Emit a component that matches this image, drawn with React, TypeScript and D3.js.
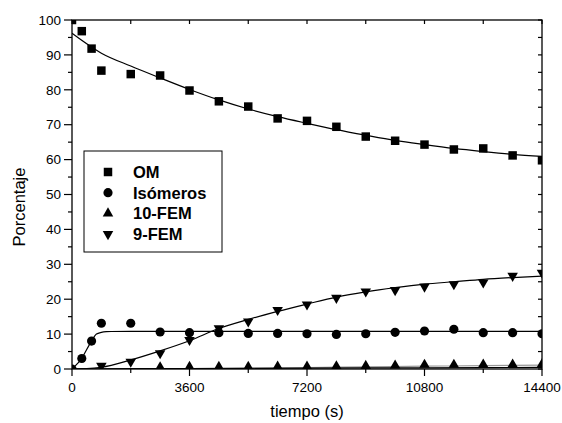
import React from 'react';
import * as d3 from 'd3';

const omTimes = [0, 300, 600, 900, 1800, 2700, 3600, 4500, 5400, 6300, 7200, 8100, 9000, 9900, 10800, 11700, 12600, 13500, 14400];
const omValues = [100, 96.8, 91.8, 85.5, 84.5, 84.1, 79.8, 76.7, 75.2, 71.8, 71.1, 69.4, 66.6, 65.4, 64.3, 62.9, 63.2, 61.2, 59.8];
const isoValues = [0, 3, 8, 13.1, 13.1, 10.6, 10.4, 10.4, 10.2, 10.2, 10.1, 9.9, 10.1, 10.5, 10.9, 11.4, 10.4, 10.4, 10.1];
const fem9Times = [900, 1800, 2700, 3600, 4500, 5400, 6300, 7200, 8100, 9000, 9900, 10800, 11700, 12600, 13500, 14400];
const fem9Values = [0.9, 2.1, 4.5, 8.3, 11.7, 13.6, 16.9, 18.5, 20.4, 22.2, 22.6, 23.6, 24.3, 24.8, 26.7, 27.6];
const fem10Times = [2700, 3600, 4500, 5400, 6300, 7200, 8100, 9000, 9900, 10800, 11700, 12600, 13500, 14400];
const fem10Values = [0.5, 0.6, 0.6, 0.6, 0.7, 0.7, 0.8, 0.9, 1.0, 1.2, 1.2, 1.3, 1.3, 1.4];

// fitted curves
const omFitTimes = [0, 900, 1800, 2700, 3600, 4500, 5400, 6300, 7200, 8100, 9000, 9900, 10800, 11700, 12600, 13500, 14400];
const omFitValues = [96.2, 90.5, 86.8, 83.4, 80.1, 77.1, 74.5, 72.3, 70.4, 68.6, 67.0, 65.5, 64.3, 63.2, 62.3, 61.5, 60.9];
const isoFitTimes = [0, 150, 300, 450, 600, 750, 900, 1050, 1200, 1800, 3600, 7200, 14400];
const isoFitValues = [0, 1.4, 3.0, 5.6, 8.0, 10.0, 10.5, 10.7, 10.75, 10.8, 10.8, 10.8, 10.8];
const fem9FitTimes = [0, 450, 900, 1800, 2700, 3600, 4500, 5400, 6300, 7200, 8100, 9000, 9900, 10800, 11700, 12600, 13500, 14400];
const fem9FitValues = [0, 0.1, 0.5, 2.6, 5.2, 8.1, 11.6, 14.2, 16.5, 18.6, 20.6, 22.1, 23.3, 24.3, 25.0, 25.7, 26.2, 26.6];
const fem10FitTimes = [0, 3600, 7200, 10800, 14400];
const fem10FitValues = [0, 0.15, 0.25, 0.35, 0.45];
const grayFitTimes = [0, 3600, 5400, 7200, 9000, 10800, 12600, 14400];
const grayFitValues = [0, 0.1, 0.25, 0.4, 0.6, 0.8, 0.95, 1.1];

const xTicks = [0, 3600, 7200, 10800, 14400];
const yTicks = [0, 10, 20, 30, 40, 50, 60, 70, 80, 90, 100];
const legendLabels = ['OM', 'Isómeros', '10-FEM', '9-FEM'];

const W = 562, H = 423;
const left = 72, right = 542, top = 20, bottom = 369;
const font = 'Liberation Sans, Arial, sans-serif';

const x = d3.scaleLinear().domain([0, 14400]).range([left, right]);
const y = d3.scaleLinear().domain([0, 100]).range([bottom, top]);

const line = d3.line<[number, number]>()
  .x(d => x(d[0]))
  .y(d => y(d[1]))
  .curve(d3.curveMonotoneX);

const zip = (t: number[], v: number[]) => t.map((tt, i) => [tt, v[i]] as [number, number]);

const sym = {
  square: d3.symbol().type(d3.symbolSquare).size(72)(),
  circle: d3.symbol().type(d3.symbolCircle).size(66)(),
  up: d3.symbol().type(d3.symbolTriangle).size(48)(),
};

const Marker = ({ kind, cx, cy }: { kind: string; cx: number; cy: number }) => {
  if (kind === 'down') {
    return <path d={sym.up as string} transform={`translate(${cx},${cy}) rotate(180)`} fill="#000" />;
  }
  return <path d={(sym as any)[kind]} transform={`translate(${cx},${cy})`} fill="#000" />;
};

export default function App() {
  const minorX = d3.range(0, 14401, 1800);
  const minorY = d3.range(0, 101, 5);
  const legendKinds = ['square', 'circle', 'up', 'down'];

  return (
    <svg width={W} height={H} style={{ position: 'absolute', left: 0, top: 0, background: '#fff' }}>
      <defs>
        <clipPath id="plot">
          <rect x={left} y={top} width={right - left} height={bottom - top} />
        </clipPath>
      </defs>

      <g clipPath="url(#plot)" fill="none">
        <path d={line(zip(grayFitTimes, grayFitValues)) as string} stroke="#999" strokeWidth={1.2} />
        <path d={line(zip(fem10FitTimes, fem10FitValues)) as string} stroke="#000" strokeWidth={1.2} />
        <path d={line(zip(omFitTimes, omFitValues)) as string} stroke="#000" strokeWidth={1.2} />
        <path d={line(zip(isoFitTimes, isoFitValues)) as string} stroke="#000" strokeWidth={1.2} />
        <path d={line(zip(fem9FitTimes, fem9FitValues)) as string} stroke="#000" strokeWidth={1.2} />
      </g>

      <g clipPath="url(#plot)">
        {omTimes.map((t, i) => <Marker key={'om' + i} kind="square" cx={x(t)} cy={y(omValues[i])} />)}
        {omTimes.map((t, i) => <Marker key={'iso' + i} kind="circle" cx={x(t)} cy={y(isoValues[i])} />)}
        {fem10Times.map((t, i) => <Marker key={'f10' + i} kind="up" cx={x(t)} cy={y(fem10Values[i])} />)}
        {fem9Times.map((t, i) => <Marker key={'f9' + i} kind="down" cx={x(t)} cy={y(fem9Values[i])} />)}
      </g>

      {/* frame */}
      <rect x={left} y={top} width={right - left} height={bottom - top} fill="none" stroke="#000" strokeWidth={1.3} />

      {/* x ticks */}
      {minorX.map(t => {
        const major = t % 3600 === 0;
        return (
          <g key={'xt' + t} stroke="#000" strokeWidth={1.2}>
            <line x1={x(t)} x2={x(t)} y1={bottom} y2={bottom + (major ? 7 : 4)} />
            <line x1={x(t)} x2={x(t)} y1={top} y2={top + 4} />
          </g>
        );
      })}
      {xTicks.map(t => (
        <text key={'xl' + t} x={x(t)} y={392} textAnchor="middle" fontFamily={font} fontSize={13.5}>{t}</text>
      ))}

      {/* y ticks */}
      {minorY.map(v => {
        const major = v % 10 === 0;
        return (
          <g key={'yt' + v} stroke="#000" strokeWidth={1.2}>
            <line x1={left} x2={left - (major ? 8 : 4)} y1={y(v)} y2={y(v)} />
            <line x1={right} x2={right - 4} y1={y(v)} y2={y(v)} />
          </g>
        );
      })}
      {yTicks.map(v => (
        <text key={'yl' + v} x={61} y={y(v)} dy="0.35em" textAnchor="end" fontFamily={font} fontSize={13.5}>{v}</text>
      ))}

      {/* axis titles */}
      <text x={(left + right) / 2} y={417} textAnchor="middle" fontFamily={font} fontSize={16.5}>tiempo (s)</text>
      <text transform="translate(25,207) rotate(-90)" textAnchor="middle" fontFamily={font} fontSize={16.5}>Porcentaje</text>

      {/* legend */}
      <rect x={84} y={151} width={138} height={101} fill="#fff" stroke="#000" strokeWidth={1} />
      {legendLabels.map((lab, i) => {
        const cy = 172 + i * 20.7;
        return (
          <g key={lab}>
            <Marker kind={legendKinds[i]} cx={108} cy={cy} />
            <text x={133} y={cy + 6} fontFamily={font} fontWeight="bold" fontSize={16.5}>{lab}</text>
          </g>
        );
      })}
    </svg>
  );
}
